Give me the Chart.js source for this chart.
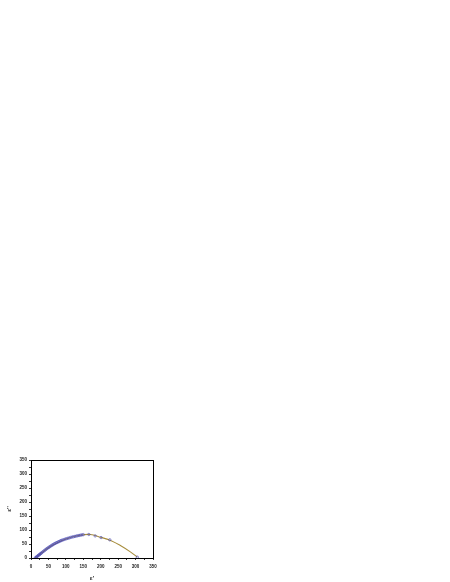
<!DOCTYPE html>
<html lang="en">
<head>
    <meta charset="UTF-8">
    <title>Cole-Cole plot</title>
    <style>
        body { margin: 0; background: #fff; }
        #chart { display: block; }
    </style>
</head>
<body>
    <canvas id="chart" width="450" height="582"></canvas>

    <script src="https://cdn.jsdelivr.net/npm/chart.js"></script>
    <script>
        // measured points (blue open circles)
        const epsReal = [12, 14, 16, 18, 20, 22, 24, 26, 28, 30, 33, 36, 39, 42, 45, 48, 51, 54, 57, 60,
                         63, 66, 69, 72, 75, 78, 81, 84, 87, 90, 94, 98, 102, 106, 110, 114, 118, 122, 126, 130,
                         134, 138, 142, 146, 150, 166, 184, 201, 226, 305];
        const epsImag = [0, 2, 4, 6, 8, 10, 12, 14, 16, 18, 21, 24, 27, 30, 33, 35.5, 38, 40.5, 43, 45.5,
                         47.5, 50, 52, 54, 55.5, 57.5, 59, 61, 62.5, 64, 65.5, 67.5, 69, 70.5, 72, 73.5, 75, 76, 77, 78.5,
                         79.5, 80.5, 81.5, 82.5, 83.5, 84, 79, 73, 65, 3];

        // fitted arc (brown line)
        const fitReal = [12, 30, 60, 100, 140, 170, 200, 230, 260, 285, 305];
        const fitImag = [0, 18, 45, 68, 81, 84, 74, 62, 42, 22, 3];

        const toXY = (xs, ys) => xs.map((x, i) => ({ x: x, y: ys[i] }));

        const tickFont = { family: 'Liberation Sans, Arial, sans-serif', size: 4.5, weight: 'bold' };
        const titleFont = { family: 'Liberation Sans, Arial, sans-serif', size: 6, weight: 'bold' };
        const label50 = v => (v % 50 === 0 ? v : '');
        const everyQuarter = s => { s.ticks = [];
            for (let v = 0; v <= 350; v += 25) s.ticks.push({ value: v }); };

        new Chart(document.getElementById('chart'), {
            type: 'scatter',
            data: {
                datasets: [
                    {
                        label: 'measured',
                        data: toXY(epsReal, epsImag),
                        showLine: false,
                        pointStyle: 'circle',
                        pointRadius: 1.2,
                        pointBorderWidth: 0.6,
                        pointBorderColor: '#4646b4',
                        pointBackgroundColor: 'rgba(255,255,255,0)',
                        order: 1
                    },
                    {
                        label: 'fit',
                        data: toXY(fitReal, fitImag),
                        showLine: true,
                        borderColor: '#a88e3e',
                        borderWidth: 1.1,
                        pointRadius: 0,
                        tension: 0.4,
                        order: 2
                    }
                ]
            },
            options: {
                responsive: false,
                animation: false,
                layout: { padding: { left: 0, top: 460, right: 297, bottom: 0 } },
                plugins: { legend: { display: false }, tooltip: { enabled: false } },
                scales: {
                    x: {
                        type: 'linear',
                        min: 0, max: 350,
                        afterFit: s => { s.height = 24; },
                        afterBuildTicks: everyQuarter,
                        ticks: { font: tickFont, color: '#222', padding: 4, maxRotation: 0, autoSkip: false,
                                 callback: label50 },
                        grid: { drawOnChartArea: false, tickLength: 2, color: '#000', tickWidth: 0.8 },
                        border: { color: '#000', width: 1 },
                        title: { display: true, text: "ε'", font: titleFont, color: '#222', padding: 0 }
                    },
                    y: {
                        type: 'linear',
                        min: 0, max: 350,
                        afterFit: s => { s.width = 31; },
                        afterBuildTicks: everyQuarter,
                        ticks: { font: tickFont, color: '#222', padding: 2, autoSkip: false, callback: label50 },
                        grid: { drawOnChartArea: false, tickLength: 2, color: '#000', tickWidth: 0.8 },
                        border: { color: '#000', width: 1 },
                        title: { display: true, text: "ε''", font: titleFont, color: '#222',
                                 padding: { top: 6, bottom: 0 } }
                    },
                    x2: {
                        type: 'linear', position: 'top',
                        min: 0, max: 350,
                        afterFit: s => { s.height = 0; },
                        ticks: { display: false },
                        grid: { display: false },
                        border: { color: '#000', width: 1 }
                    },
                    y2: {
                        type: 'linear', position: 'right',
                        min: 0, max: 350,
                        afterFit: s => { s.width = 0; },
                        ticks: { display: false },
                        grid: { display: false },
                        border: { color: '#000', width: 1 }
                    }
                }
            }
        });
    </script>
</body>
</html>
